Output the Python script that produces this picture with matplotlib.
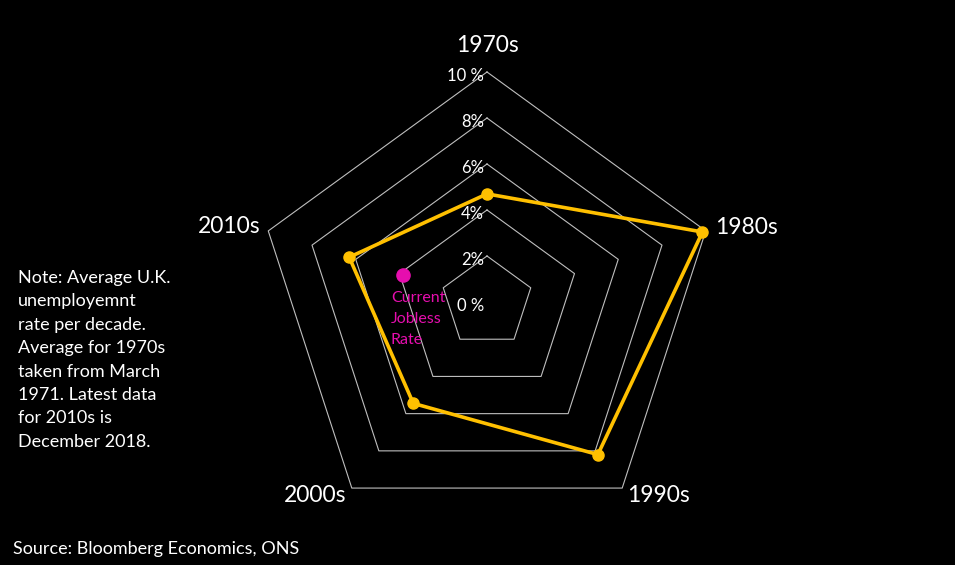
import numpy as np
import matplotlib
matplotlib.use("Agg")
import matplotlib.pyplot as plt

plt.rcParams['font.family'] = ['Lato', 'DejaVu Sans']

decades = ["1970s", "1980s", "1990s", "2000s", "2010s"]
avg_rate = [4.7, 9.85, 8.2, 5.45, 6.3]
current_rate = 3.85
ring_levels = [2, 4, 6, 8, 10]
tick_labels = ["0 %", "2%", "4%", "6%", "8%", "10 %"]
tick_values = [0, 2, 4, 6, 8, 10]

W, H = 955, 565
fig = plt.figure(figsize=(W / 100, H / 100), dpi=100, facecolor="black")
cx, cy, R = 487, 263, 230
ax = fig.add_axes([(cx - R) / W, (cy - R) / H, 2 * R / W, 2 * R / H], projection="polar")
ax.set_facecolor("black")
ax.set_theta_offset(np.pi / 2)
ax.set_theta_direction(-1)
ax.set_ylim(0, 10)
ax.grid(False)
ax.spines['polar'].set_visible(False)
ax.set_xticks([])
ax.set_yticks([])

n = len(decades)
theta = np.arange(n) * 2 * np.pi / n
theta_closed = np.append(theta, theta[0])

grid_color = "#BFBFBF"
for lv in ring_levels:
    ax.plot(theta_closed, [lv] * (n + 1), color=grid_color, lw=0.8, zorder=1, clip_on=False)

vals = np.append(avg_rate, avg_rate[0])
gold = "#FFC000"
ax.plot(theta_closed, vals, color=gold, lw=2.6, zorder=3, clip_on=False)
ax.plot(theta, avg_rate, 'o', color=gold, ms=8, zorder=4, clip_on=False)

magenta = "#E60EAE"
ax.plot([theta[4]], [current_rate], 'o', color=magenta, ms=9.5, zorder=5, clip_on=False)
ax.annotate("Current\nJobless\nRate", xy=(theta[4], current_rate), xytext=(-12, -16),
            textcoords="offset pixels", ha="left", va="top", color=magenta,
            fontsize=11.5, linespacing=1.65, zorder=6)

for lab, v in zip(tick_labels, tick_values):
    ax.annotate(lab, xy=(0, v), xytext=(-3, -4), textcoords="offset pixels",
                ha="right", va="center", color="white", fontsize=12, zorder=6)

label_offsets = [((0, 27), "center", "center"),
                 ((9, 3), "left", "center"),
                 ((5, -7), "left", "center"),
                 ((-5, -7), "right", "center"),
                 ((-8, 4), "right", "center")]
for t, lab, (off, ha, va) in zip(theta, decades, label_offsets):
    ax.annotate(lab, xy=(t, 10), xytext=off, textcoords="offset pixels",
                ha=ha, va=va, color="white", fontsize=16.5, zorder=6)

note = ("Note: Average U.K.\nunemployemnt\nrate per decade.\nAverage for 1970s\n"
        "taken from March\n1971. Latest data\nfor 2010s is\nDecember 2018.")
fig.text(18 / W, 1 - 270 / H, note, ha="left", va="top", color="white",
         fontsize=13, linespacing=1.57)
fig.text(13 / W, 1 - 549 / H, "Source: Bloomberg Economics, ONS", ha="left",
         va="center", color="white", fontsize=13)

fig.savefig("out.png", dpi=100, facecolor="black")
